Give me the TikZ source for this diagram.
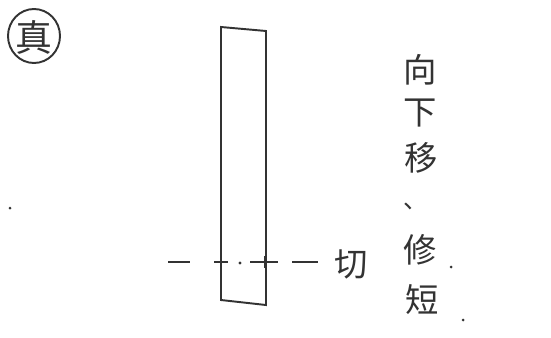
\documentclass[tikz,border=0pt]{standalone}
\usepackage{fontspec}
\newfontfamily\cjk{Noto Sans CJK SC}

\begin{document}
\begin{tikzpicture}[x=0.02cm, y=-0.02cm, line width=1.1pt, draw=black!80,
    hanzi/.style={font=\cjk\fontsize{19}{19}\selectfont, text=black!80, inner sep=0pt}]
    \useasboundingbox (0,0) rectangle (551,338);
    % The marked circle at the top left.
        \draw (34,36) ellipse (26 and 27);
        \node[hanzi, font=\cjk\fontsize{21}{21}\selectfont] (zhen) at (34,37) {真};
    % This draws the tall bar.
        \draw (221,27) -- (266,31) -- (266,305) -- (221,300) -- cycle;
    % Below is the cut line.
        \coordinate (cutL) at (168,262);
        \coordinate (cutR) at (318,262);
        \draw (cutL) -- (190,262);
        \draw (214,262) -- (228,262);
        \draw (221,254) -- (221,270);
        \fill[black!80] (240,263) circle (1.6);
        \draw (250,262) -- (278,262);
        \draw (265,256) -- (265,268);
        \draw (292,262) -- (cutR);
        \node[hanzi, anchor=west] (qie) at (334,264) {切};
    % Below nodes are the labels.
        \node[hanzi] (xiang) at (420,70) {向};
        \node[hanzi] (xia) at (420,113) {下};
        \node[hanzi] (yi) at (421,158) {移};
        \node[hanzi, font=\cjk\fontsize{14}{14}\selectfont] (dun) at (416,206) {、};
        \node[hanzi] (xiu) at (420,250) {修};
        \node[hanzi] (duan) at (422,300) {短};
        \fill[black!80] (451,267) circle (1.5);
        \fill[black!80] (463,320) circle (1.5);
    % Leftover mark at the left.
        \fill[black!80] (10,208) circle (1.5);
\end{tikzpicture}
\end{document}
